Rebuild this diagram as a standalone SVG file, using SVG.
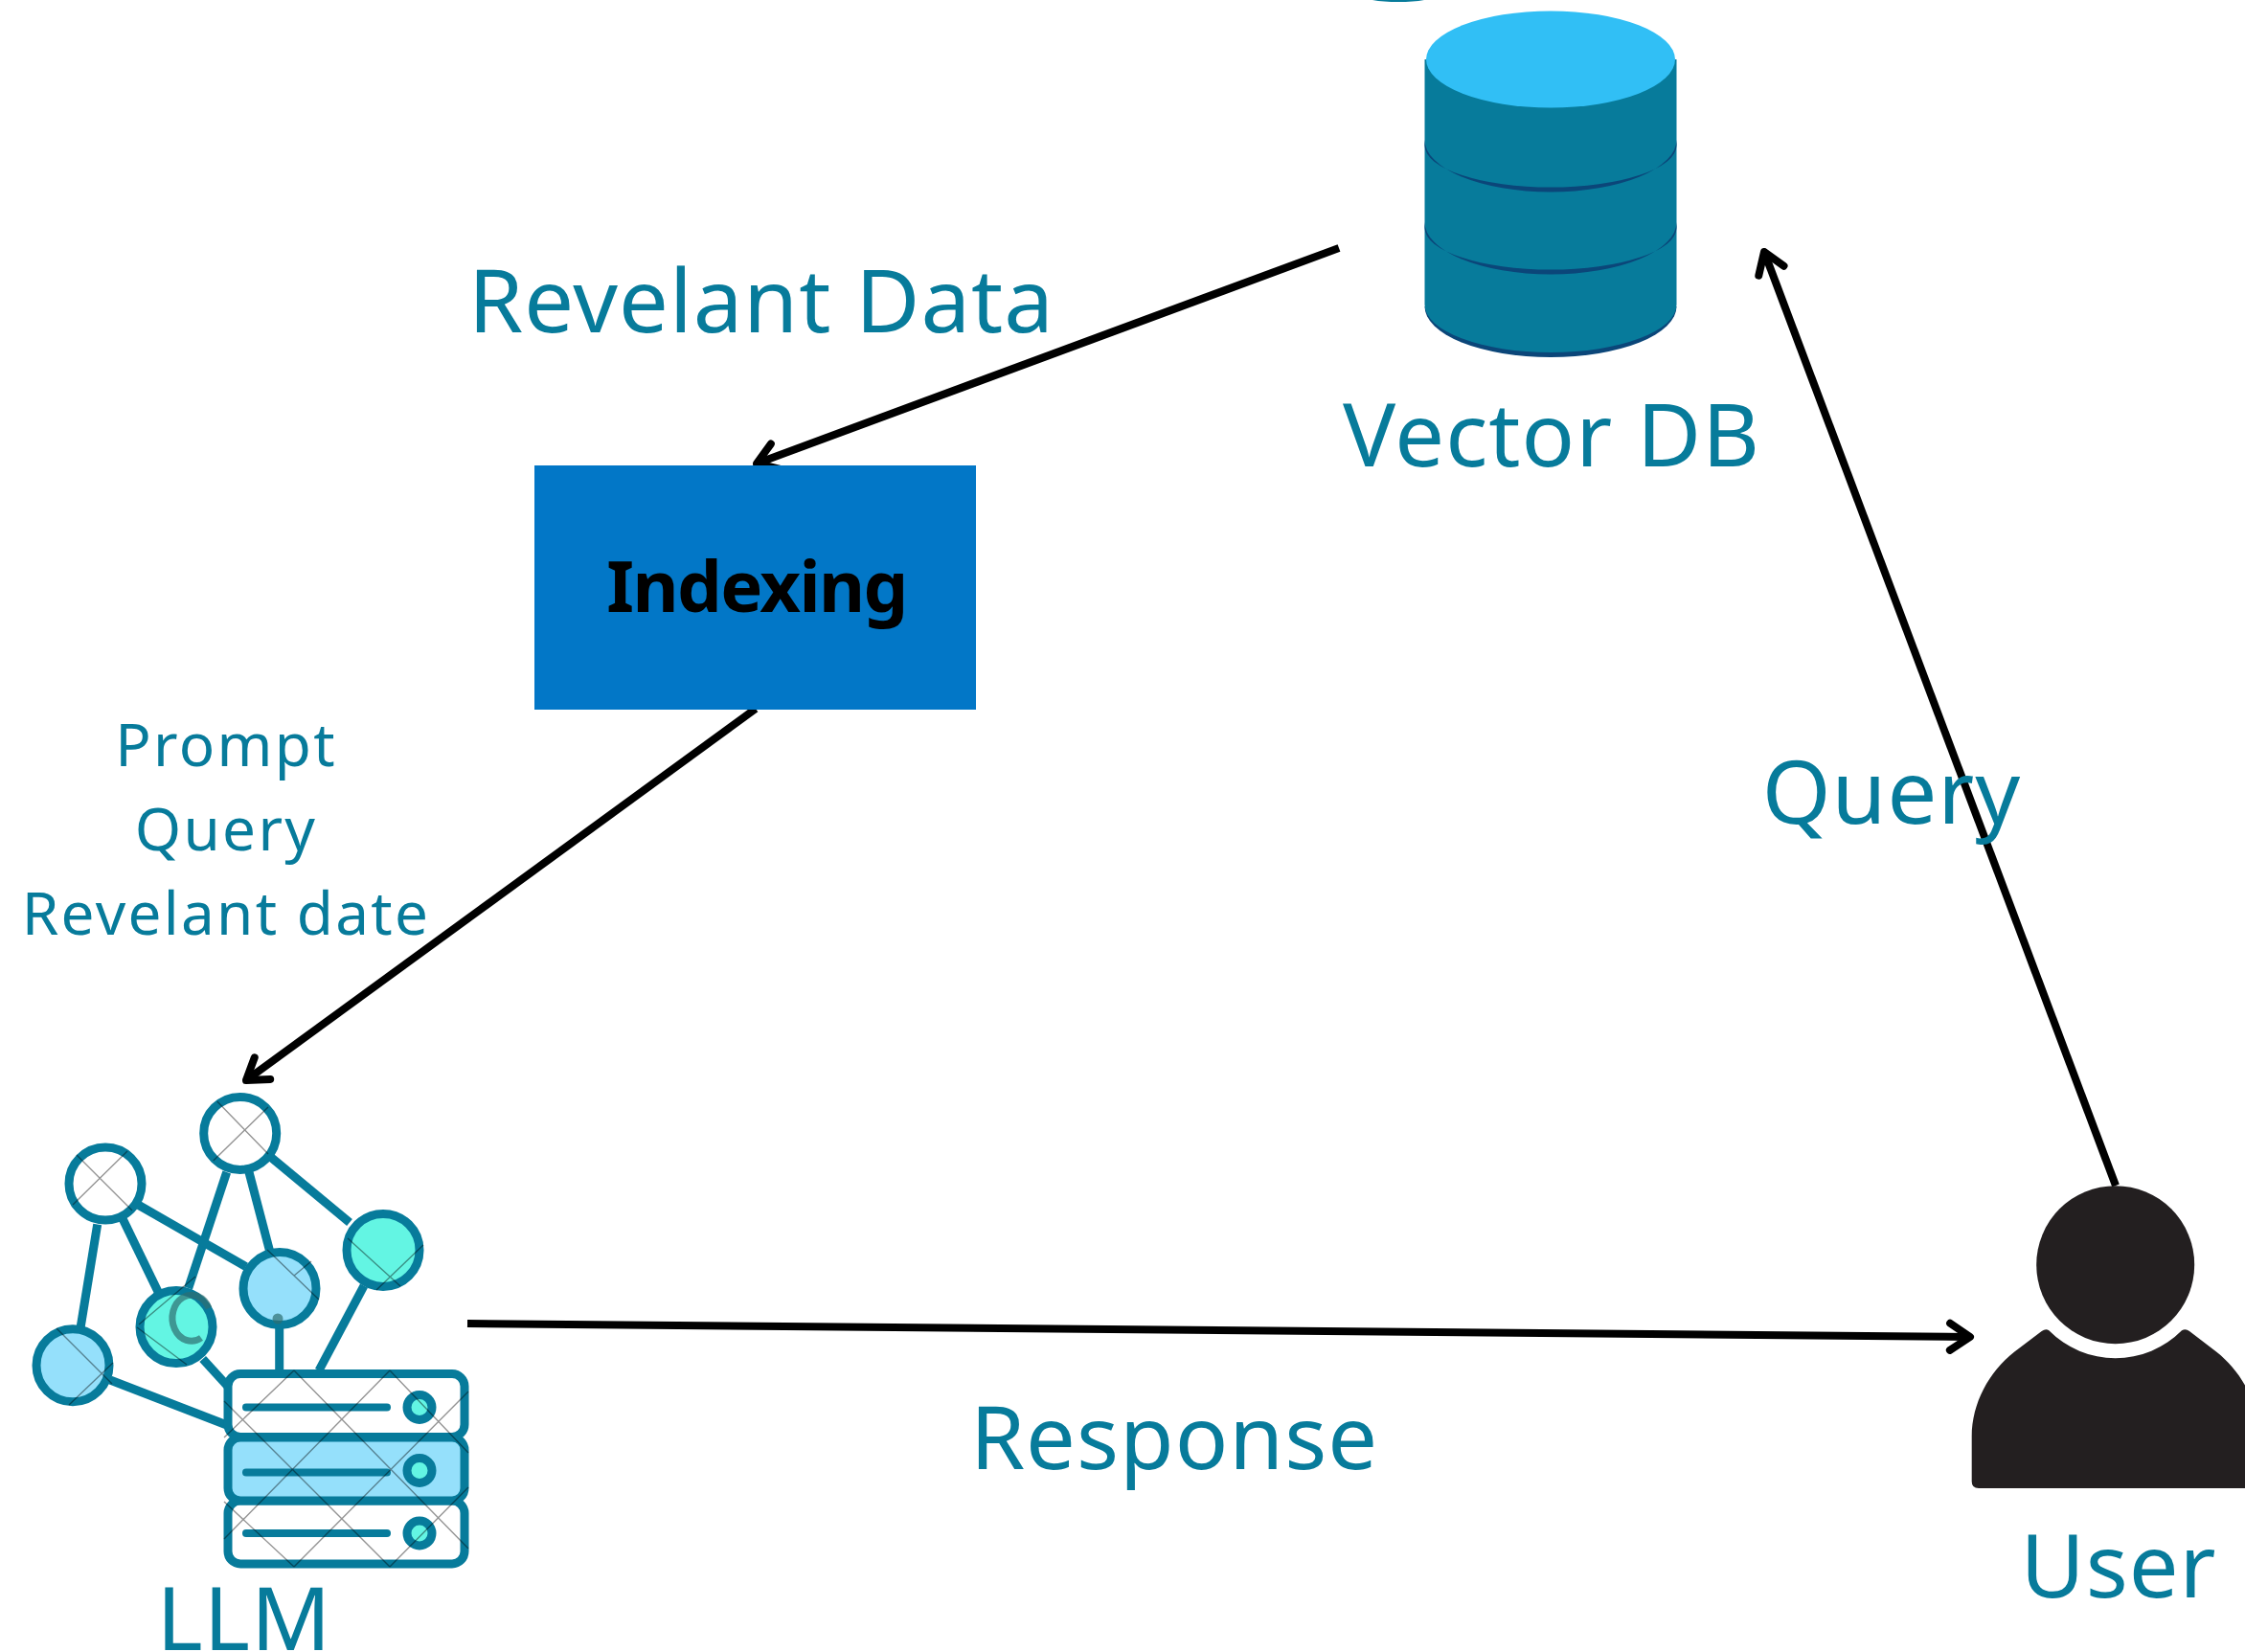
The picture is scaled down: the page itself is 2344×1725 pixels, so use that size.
<svg xmlns="http://www.w3.org/2000/svg" width="2344" height="1725" viewBox="0 0 2344 1725">
<style>
.lbl{font-family:"Noto Sans","Open Sans",sans-serif;fill:#077b9b;text-anchor:middle}
.big{font-size:92px;letter-spacing:1px}
.small{font-size:62px;letter-spacing:2.3px}
.arrow{fill:none;stroke:#000;stroke-width:8;marker-end:url(#chev)}
.ic{stroke:#077b9b;stroke-width:9;fill:#fff}
.edge{stroke:#077b9b;stroke-width:9;fill:none}
.tick{stroke:#000;stroke-opacity:.42;stroke-width:1.4;fill:none}
.bl{fill:#95e0fb}
.gr{fill:#63f5e3}
.bar{stroke:#077b9b;stroke-width:8;stroke-linecap:round}
.dark{fill:#0b4679}
.teal{fill:#077b9b}
</style>
<defs>
<marker id="chev" markerUnits="userSpaceOnUse" markerWidth="60" markerHeight="60" refX="30" refY="30" orient="auto" viewBox="0 0 60 60">
<path d="M9 16 L30 30 L9 44" fill="none" stroke="#000" stroke-width="8" stroke-linecap="round" stroke-linejoin="round"/>
</marker>
</defs>
<rect width="2344" height="1725" fill="#fff"/>

<g id="connectors">
<line class="arrow" x1="1398" y1="259" x2="790" y2="484"/>
<line class="arrow" x1="789" y1="740" x2="257" y2="1128"/>
<line class="arrow" x1="488" y1="1382" x2="2057" y2="1396"/>
<line class="arrow" x1="2209" y1="1238" x2="1842" y2="263"/>
</g>

<g id="dome"><path class="teal" d="M1433 0 A40 8 0 0 0 1487 0 Z"/></g>

<g id="vector-db">
<path class="dark" d="M1487.500 320 A131.500 53 0 0 0 1750.500 320 Z"/>
<path class="teal" d="M1487.500 62 V318 A131.500 50 0 0 0 1750.500 318 V62 Z"/>
<path class="dark" d="M1487.500 146 A131.500 54.500 0 0 0 1750.500 146 V152 A131.500 43.500 0 0 1 1487.500 152 Z"/>
<path class="dark" d="M1487.500 232 A131.500 54.500 0 0 0 1750.500 232 V238 A131.500 43.500 0 0 1 1487.500 238 Z"/>
<ellipse cx="1619" cy="62" rx="130" ry="50.500" fill="#31bff5"/>
<text class="lbl big" x="1620" y="487">Vector DB</text>
</g>

<g id="revelant-data"><text class="lbl big" x="795" y="347">Revelant Data</text></g>

<g id="indexing">
<rect x="558" y="486" width="461" height="255" fill="#0277c7"/>
<text x="790" y="639" font-family="'Noto Sans','Open Sans',sans-serif" font-weight="700" font-size="74" letter-spacing="-1.6" fill="#000" text-anchor="middle">Indexing</text>
</g>

<g id="prompt-label">
<text class="lbl small" x="236" y="800">Prompt</text>
<text class="lbl small" x="236" y="888">Query</text>
<text class="lbl small" x="236" y="976">Revelant date</text>
</g>

<g id="query-label"><text class="lbl big" x="1975" y="860">Query</text></g>
<g id="response-label"><text class="lbl big" x="1226" y="1534">Response</text></g>

<g id="llm">
<line class="edge" x1="236.700" y1="1224" x2="196.700" y2="1345"/>
<line class="edge" x1="260" y1="1224" x2="281.700" y2="1306.600"/>
<line class="edge" x1="280" y1="1206" x2="365" y2="1276.500"/>
<line class="edge" x1="145" y1="1258.500" x2="256.700" y2="1322.600"/>
<line class="edge" x1="128" y1="1272.500" x2="165" y2="1348.700"/>
<line class="edge" x1="101.700" y1="1278.500" x2="84" y2="1386.800"/>
<line class="edge" x1="115" y1="1441" x2="236.700" y2="1488"/>
<line class="edge" x1="211.700" y1="1419" x2="240" y2="1450"/>
<line class="edge" x1="291.700" y1="1387" x2="291.700" y2="1431"/>
<line class="edge" x1="380" y1="1342.700" x2="333" y2="1431"/>
<circle class="ic" cx="250.700" cy="1183.400" r="38"/>
<circle class="ic" cx="110" cy="1236" r="38"/>
<circle class="ic bl" cx="76" cy="1425.700" r="38"/>
<circle class="ic gr" cx="184" cy="1385.600" r="38"/>
<circle class="ic bl" cx="292" cy="1345.500" r="38"/>
<circle class="ic gr" cx="400" cy="1305.400" r="38"/>
<rect class="ic" x="238" y="1434.500" width="247" height="66" rx="13"/>
<rect class="ic" x="238" y="1567" width="247" height="66" rx="13"/>
<rect class="ic bl" x="238" y="1501" width="247" height="66" rx="13"/>
<line class="bar" x1="257" y1="1469.500" x2="404" y2="1469.500"/>
<line class="bar" x1="257" y1="1537.500" x2="404" y2="1537.500"/>
<line class="bar" x1="257" y1="1601" x2="404" y2="1601"/>
<circle class="ic gr" cx="438" cy="1469.500" r="13"/>
<circle class="ic gr" cx="438" cy="1535.500" r="13"/>
<circle class="ic gr" cx="438" cy="1601" r="13"/>
<path class="tick" d="M234 1463 L407 1636 M307 1431 L489 1617 M407 1431 L489 1517 M234 1568 L307 1636 M234 1607 L407 1431 M307 1636 L489 1453 M407 1636 L489 1553 M234 1501 L307 1431 M226.700 1150 L280 1205 M222.700 1212 L280 1156 M80 1206 L138 1264 M76 1258 L133 1202 M59 1387 L117 1445 M72 1467 L118 1423 M143 1386 L195 1425 M145 1383 L204 1333 M279 1305 L333 1357 M307 1332 L325 1317 M363 1293 L418 1343 M393 1347 L442 1300"/>
<path d="M218 1366 A20 24 0 1 0 210 1397" fill="none" stroke="#2f6f70" stroke-opacity=".7" stroke-width="7"/>
<circle cx="290" cy="1377" r="5.500" fill="#2f6f70" fill-opacity=".7"/>
<text class="lbl big" x="255" y="1723">LLM</text>
</g>

<g id="user">
<circle cx="2208.700" cy="1320.700" r="82.500" fill="#231f20"/>
<path fill="#231f20" d="M2139.300 1389.300 A97.600 97.600 0 0 0 2278 1389.300 Q2282 1387 2286 1390 L2314.400 1411.700 C2340 1432 2358.700 1465 2358.700 1500 V1554 H2066 Q2058.700 1554 2058.700 1547 V1500 C2058.700 1465 2077 1432 2103 1411.700 L2131.700 1390 Q2136 1387 2139.300 1389.300 Z"/>
<text class="lbl big" x="2212" y="1668">User</text>
</g>
</svg>
